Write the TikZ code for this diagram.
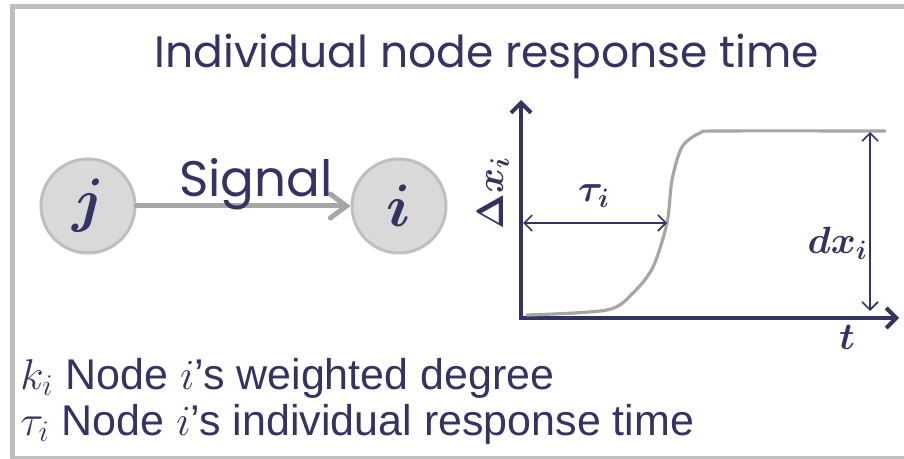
\RequirePackage{fix-cm}
\documentclass[tikz,border=0pt]{standalone}
\usepackage{amsmath,amssymb}
\usepackage{fontspec}
\setsansfont{Liberation Sans}
\newfontfamily\gothic{Poppins}
\usetikzlibrary{arrows.meta, positioning, calc}
\definecolor{cInk}{RGB}{52,52,98}
\definecolor{cFrame}{RGB}{191,191,191}
\definecolor{cNode}{RGB}{217,217,217}
\definecolor{cCurve}{RGB}{166,166,166}

\begin{document}
\begin{tikzpicture}[x=0.5pt, y=-0.5pt,
  vert/.style={circle, draw=cFrame, line width=1.5pt, fill=cNode, minimum size=47pt, inner sep=0pt, text=cInk, font=\fontsize{30}{30}\selectfont},
  sig/.style={-{Straight Barb[length=8pt, width=12pt, line cap=round]}, line width=2.5pt, draw=cCurve, line cap=round},
  axis/.style={{Straight Barb[length=5pt, width=10pt]}-{Straight Barb[length=5pt, width=10pt]}, line width=2pt, draw=cInk},
  span/.style={{Straight Barb[length=4pt, width=8pt]}-{Straight Barb[length=4pt, width=8pt]}, line width=0.8pt, draw=cInk},
  lbl/.style={text=cInk, inner sep=0pt, font=\fontsize{19}{19}\selectfont},
  legend/.style={anchor=base west, text=cInk, inner sep=0pt, font=\sffamily\fontsize{21.5}{21.5}\selectfont}]
  \useasboundingbox (0,0) rectangle (904,459);
  \draw[cFrame, line width=2.5pt] (12,6.5) rectangle (940,458.5);

  % title
  \node[anchor=base, text=cInk, inner sep=0pt, font=\gothic\fontsize{22}{22}\selectfont] (title) at (487,68) {Individual node response time};

  % signal between two nodes
  \node[vert] (j) at (88,206) {$\boldsymbol{j}$};
  \node[vert] (i) at (399,206) {$\boldsymbol{i}$};
  \draw[sig] (j) -- (i);
  \node[anchor=base, text=cInk, inner sep=0pt, font=\gothic\fontsize{25}{25}\selectfont] (signal) at (256,197) {Signal};

  % response curve
  \coordinate (o) at (521,318);
  \coordinate (ytop) at (521,100);
  \coordinate (xend) at (899,318);
  \draw[axis] (ytop) -- (o) -- (xend);
  \draw[cCurve, line width=1.6pt, line cap=round, line join=round] plot[smooth, tension=0.5] coordinates {(527,315) (607,310) (633,293) (653,267) (667,223) (672,180) (682,147) (700,133) (720,131) (885,131)};
  \coordinate (tauL) at (523,223);
  \coordinate (tauR) at (667,223);
  \draw[span] (tauL) -- (tauR);
  \coordinate (dxT) at (870,132);
  \coordinate (dxB) at (870,311);
  \draw[span] (dxT) -- (dxB);
  \node[lbl] (tau) at (594,196) {$\boldsymbol{\tau_i}$};
  \node[lbl, anchor=east] (dx) at (868,243) {$\boldsymbol{dx_i}$};
  \node[lbl, rotate=90] (dX) at (493,193) {$\boldsymbol{\Delta x_i}$};
  \node[lbl] (t) at (847,337) {$\boldsymbol{t}$};

  % legend
  \node[legend] (kdef) at (20,389) {$k_i$ Node $i$'s weighted degree};
  \node[legend] (taudef) at (20,435) {$\tau_i$ Node $i$'s individual response time};
\end{tikzpicture}
\end{document}
